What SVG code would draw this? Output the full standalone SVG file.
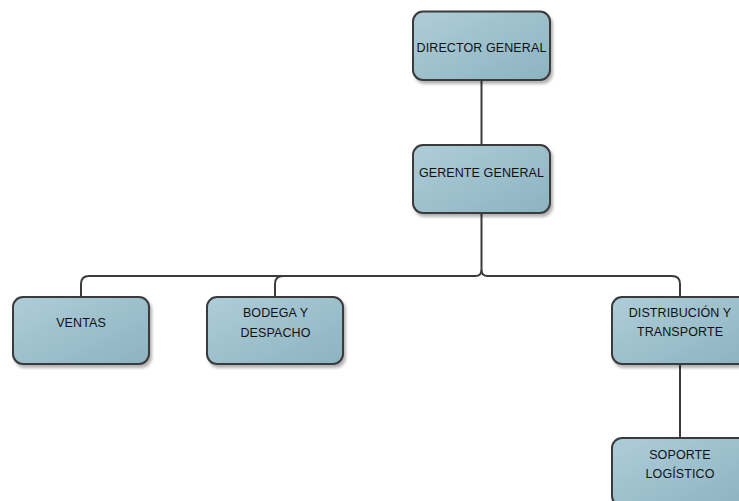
<svg xmlns="http://www.w3.org/2000/svg" width="739" height="501" viewBox="0 0 739 501">
  <defs>
    <linearGradient id="fill" x1="0" y1="0" x2="1" y2="1">
      <stop offset="0" stop-color="#aecdd8"/>
      <stop offset="1" stop-color="#8cb3c1"/>
    </linearGradient>
    <filter id="shadow" x="-10%" y="-10%" width="130%" height="130%">
      <feDropShadow dx="2" dy="3" stdDeviation="1.8" flood-color="#000" flood-opacity="0.3"/>
    </filter>
    <style>
      .box { fill: url(#fill); stroke: #3b3b3b; stroke-width: 2; filter: url(#shadow); }
      .lbl { font-family: "Liberation Sans", Arial, sans-serif; font-size: 12.5px; fill: #111111; text-anchor: middle; letter-spacing: 0.1px; }
      .conn { fill: none; stroke: #3b3b3b; stroke-width: 2; }
    </style>
  </defs>
  <rect width="739" height="501" fill="#ffffff"/>

  <g id="connectors">
    <path class="conn" d="M481.5 80 V145"/>
    <path class="conn" d="M481.5 213 V270 Q481.5 276 475.5 276 H89 Q81 276 81 284 V297"/>
    <path class="conn" d="M283 276 Q275 276 275 284 V297"/>
    <path class="conn" d="M481.5 270 Q481.5 276 487.5 276 H672 Q680 276 680 284 V297"/>
    <path class="conn" d="M680 364 V438"/>
  </g>

  <g id="director">
    <rect class="box" x="413" y="11.5" width="137" height="68.5" rx="10"/>
    <text class="lbl" x="481.5" y="52">DIRECTOR GENERAL</text>
  </g>
  <g id="gerente">
    <rect class="box" x="413" y="145" width="137" height="68" rx="10"/>
    <text class="lbl" x="481.5" y="177">GERENTE GENERAL</text>
  </g>
  <g id="ventas">
    <rect class="box" x="13" y="297" width="136" height="67" rx="10"/>
    <text class="lbl" x="81" y="327">VENTAS</text>
  </g>
  <g id="bodega">
    <rect class="box" x="207" y="297" width="136" height="67" rx="10"/>
    <text class="lbl" x="275.5" y="317">BODEGA Y</text>
    <text class="lbl" x="275.5" y="337">DESPACHO</text>
  </g>
  <g id="distribucion">
    <rect class="box" x="612" y="297" width="137" height="67" rx="10"/>
    <text class="lbl" x="680" y="317">DISTRIBUCIÓN Y</text>
    <text class="lbl" x="680" y="336">TRANSPORTE</text>
  </g>
  <g id="soporte">
    <rect class="box" x="612" y="438" width="137" height="68" rx="10"/>
    <text class="lbl" x="680" y="459">SOPORTE</text>
    <text class="lbl" x="680" y="478">LOGÍSTICO</text>
  </g>
</svg>
